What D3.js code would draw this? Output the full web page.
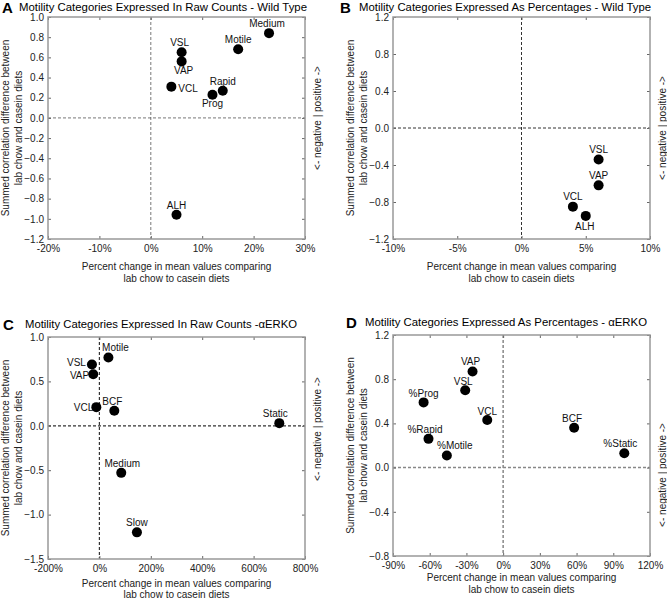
<!DOCTYPE html>
<html>
<head>
<meta charset="utf-8">
<script src="https://cdn.jsdelivr.net/npm/d3@7"></script>
<style>
  body { margin: 0; background: #fff; }
  svg { font-family: "Liberation Sans", Arial, Helvetica, sans-serif; }
  .tick text { font-size: 10px; fill: #222; }
</style>
</head>
<body>
<svg id="chart"></svg>
<script>
const width = 667;
const height = 602;

// ---- data ----
// A: raw counts, wild type
const aNames = ["Medium", "Motile", "VSL", "VAP", "VCL", "Rapid", "Prog", "ALH"];
const aPct = [23, 17, 6, 6, 4, 14, 12, 5];
const aCorr = [0.84, 0.68, 0.65, 0.56, 0.31, 0.27, 0.23, -0.96];
const aXTicks = [-20, -10, 0, 10, 20, 30];
const aYTicks = [-1.2, -1.0, -0.8, -0.6, -0.4, -0.2, 0, 0.2, 0.4, 0.6, 0.8, 1.0];

// B: percentages, wild type
const bNames = ["VSL", "VAP", "VCL", "ALH"];
const bPct = [6, 6, 4, 5];
const bCorr = [-0.34, -0.62, -0.85, -0.95];
const bXTicks = [-10, -5, 0, 5, 10];
const bYTicks = [-1.2, -0.8, -0.4, 0, 0.4, 0.8, 1.2];

// C: raw counts, aERKO
const cNames = ["Motile", "VSL", "VAP", "VCL", "BCF", "Static", "Medium", "Slow"];
const cPct = [35, -29, -24, -12, 58, 700, 85, 146];
const cCorr = [0.77, 0.69, 0.58, 0.21, 0.17, 0.03, -0.53, -1.2];
const cXTicks = [-200, 0, 200, 400, 600, 800];
const cYTicks = [-1.5, -1.0, -0.5, 0, 0.5, 1.0];

// D: percentages, aERKO
const dNames = ["VAP", "VSL", "%Prog", "VCL", "%Rapid", "%Motile", "BCF", "%Static"];
const dPct = [-25, -31, -65, -13, -61, -46, 58, 99];
const dCorr = [0.87, 0.70, 0.59, 0.43, 0.26, 0.11, 0.36, 0.13];
const dXTicks = [-90, -60, -30, 0, 30, 60, 90, 120];
const dYTicks = [-0.8, -0.4, 0, 0.4, 0.8, 1.2];

// label placement (dx, dy, anchor) per point name
const aLabelPos = {
  Medium: [-2, -6, "middle"], Motile: [0, -6, "middle"], VSL: [-2, -6, "middle"],
  VAP: [2, 12.5, "middle"], VCL: [7, 5.5, "start"], Rapid: [0, -6, "middle"],
  Prog: [0, 12.5, "middle"], ALH: [0, -6, "middle"]
};
const bLabelPos = {
  VSL: [0, -6, "middle"], VAP: [0, -6.5, "middle"], VCL: [0, -7, "middle"], ALH: [-1, 14, "middle"]
};
const cLabelPos = {
  Motile: [7, -6, "middle"], VSL: [-6, 1, "end"], VAP: [-4, 4.5, "end"], VCL: [-3, 4, "end"],
  BCF: [-2, -6, "middle"], Static: [-4, -6, "middle"], Medium: [1, -5.5, "middle"], Slow: [0, -6, "middle"]
};
const dLabelPos = {
  VAP: [-2, -6, "middle"], VSL: [-2, -5, "middle"], "%Prog": [0, -5.5, "middle"],
  VCL: [0, -5.5, "middle"], "%Rapid": [-3.5, -6, "middle"], "%Motile": [8, -6, "middle"],
  BCF: [-2, -6, "middle"], "%Static": [-4, -6, "middle"]
};

const panels = [
  {
    letter: "A", title: "Motility Categories Expressed In Raw Counts - Wild Type",
    letterX: 2, titleX: 19, titleY: 11, titleLen: 288,
    box: { left: 48, right: 305, top: 17, bottom: 239 },
    xDomain: [-20, 30], yDomain: [-1.2, 1.0], xTicks: aXTicks, yTicks: aYTicks,
    names: aNames, xs: aPct, ys: aCorr, labelPos: aLabelPos,
    xTitleDy: 31, xTitleGap: 12, sideX: 321, sideY: 118,
    dash: { stroke: "#555", width: 0.8, array: "3,2" }
  },
  {
    letter: "B", title: "Motility Categories Expressed As Percentages - Wild Type",
    letterX: 340, titleX: 359, titleY: 11, titleLen: 292,
    box: { left: 393, right: 650, top: 17, bottom: 239 },
    xDomain: [-10, 10], yDomain: [-1.2, 1.2], xTicks: bXTicks, yTicks: bYTicks,
    names: bNames, xs: bPct, ys: bCorr, labelPos: bLabelPos,
    xTitleDy: 31, xTitleGap: 12, sideX: 666, sideY: 128,
    dash: { stroke: "#333", width: 1, array: "3,2" }
  },
  {
    letter: "C", title: "Motility Categories Expressed In Raw Counts -\u03b1ERKO",
    letterX: 3, titleX: 25, titleY: 328, titleLen: 272,
    box: { left: 48, right: 305, top: 337, bottom: 559 },
    xDomain: [-200, 800], yDomain: [-1.5, 1.0], xTicks: cXTicks, yTicks: cYTicks,
    names: cNames, xs: cPct, ys: cCorr, labelPos: cLabelPos,
    xTitleDy: 28, xTitleGap: 11, sideX: 321, sideY: 429,
    dash: { stroke: "#333", width: 1.2, array: "3,2" }
  },
  {
    letter: "D", title: "Motility Categories Expressed As Percentages - \u03b1ERKO",
    letterX: 346, titleX: 365, titleY: 326, titleLen: 282,
    box: { left: 393, right: 650, top: 335, bottom: 556 },
    xDomain: [-90, 120], yDomain: [-0.8, 1.2], xTicks: dXTicks, yTicks: dYTicks,
    names: dNames, xs: dPct, ys: dCorr, labelPos: dLabelPos,
    xTitleDy: 25, xTitleGap: 12, sideX: 666, sideY: 475,
    dash: { stroke: "#888", width: 1.5, array: "3,2" }
  }
];

const svg = d3.select('#chart')
  .attr('width', width)
  .attr('height', height)
  .attr('viewBox', [0, 0, width, height]);

panels.forEach(p => drawPanel(p));

function drawPanel(p) {
  const b = p.box;
  const g = svg.append('g');

  const xScale = d3.scaleLinear().domain(p.xDomain).range([b.left, b.right]);
  const yScale = d3.scaleLinear().domain(p.yDomain).range([b.bottom, b.top]);

  // panel letter + title
  g.append('text')
    .attr('x', p.letterX).attr('y', p.titleY + 2)
    .style('font-size', '15px').style('font-weight', 'bold')
    .text(p.letter);
  g.append('text')
    .attr('x', p.titleX).attr('y', p.titleY)
    .attr('textLength', p.titleLen)
    .attr('lengthAdjust', 'spacingAndGlyphs')
    .style('font-size', '11.5px')
    .text(p.title);

  // zero lines (dashed)
  g.append('line')
    .attr('x1', xScale(0)).attr('x2', xScale(0))
    .attr('y1', b.top).attr('y2', b.bottom)
    .attr('stroke', p.dash.stroke).attr('stroke-width', p.dash.width)
    .attr('stroke-dasharray', p.dash.array);
  g.append('line')
    .attr('x1', b.left).attr('x2', b.right)
    .attr('y1', yScale(0)).attr('y2', yScale(0))
    .attr('stroke', p.dash.stroke).attr('stroke-width', p.dash.width)
    .attr('stroke-dasharray', p.dash.array);

  // axes with inward ticks
  const fmtX = d => d + '%';
  const fmtY = d3.format('.1f');

  const xAxisB = g.append('g')
    .attr('transform', `translate(0, ${b.bottom})`)
    .call(d3.axisBottom(xScale).tickValues(p.xTicks).tickFormat(fmtX).tickSize(-3).tickPadding(6));
  const xAxisT = g.append('g')
    .attr('transform', `translate(0, ${b.top})`)
    .call(d3.axisTop(xScale).tickValues(p.xTicks).tickFormat('').tickSize(-3));
  const yAxisL = g.append('g')
    .attr('transform', `translate(${b.left}, 0)`)
    .call(d3.axisLeft(yScale).tickValues(p.yTicks).tickFormat(fmtY).tickSize(-3).tickPadding(4));
  const yAxisR = g.append('g')
    .attr('transform', `translate(${b.right}, 0)`)
    .call(d3.axisRight(yScale).tickValues(p.yTicks).tickFormat('').tickSize(-3));

  [xAxisB, xAxisT, yAxisL, yAxisR].forEach(a => {
    a.select('.domain').remove();
    a.selectAll('.tick line').attr('stroke', '#666');
  });

  // frame
  g.append('rect')
    .attr('x', b.left).attr('y', b.top)
    .attr('width', b.right - b.left).attr('height', b.bottom - b.top)
    .attr('fill', 'none').attr('stroke', '#999').attr('stroke-width', 1.5);

  // points
  const pts = p.names.map((n, i) => ({ name: n, x: p.xs[i], y: p.ys[i] }));
  g.selectAll('.point')
    .data(pts)
    .enter()
    .append('circle')
    .attr('class', 'point')
    .attr('cx', d => xScale(d.x))
    .attr('cy', d => yScale(d.y))
    .attr('r', 5)
    .attr('fill', '#000');

  g.selectAll('.plabel')
    .data(pts)
    .enter()
    .append('text')
    .attr('class', 'plabel')
    .attr('x', d => xScale(d.x) + p.labelPos[d.name][0])
    .attr('y', d => yScale(d.y) + p.labelPos[d.name][1])
    .attr('text-anchor', d => p.labelPos[d.name][2])
    .style('font-size', '10px')
    .attr('fill', '#111')
    .text(d => d.name);

  // x-axis title
  const cx = (b.left + b.right) / 2;
  g.append('text')
    .attr('text-anchor', 'middle')
    .attr('x', cx).attr('y', b.bottom + p.xTitleDy)
    .style('font-size', '10px').attr('fill', '#222')
    .text('Percent change in mean values comparing');
  g.append('text')
    .attr('text-anchor', 'middle')
    .attr('x', cx).attr('y', b.bottom + p.xTitleDy + p.xTitleGap)
    .style('font-size', '10px').attr('fill', '#222')
    .text('lab chow to casein diets');

  // y-axis title (rotated, two lines)
  const cy = (b.top + b.bottom) / 2;
  g.append('text')
    .attr('text-anchor', 'middle')
    .attr('transform', `translate(${b.left - 39}, ${cy}) rotate(-90)`)
    .style('font-size', '10px').attr('fill', '#222')
    .text('Summed correlation difference between');
  g.append('text')
    .attr('text-anchor', 'middle')
    .attr('transform', `translate(${b.left - 26}, ${cy}) rotate(-90)`)
    .style('font-size', '10px').attr('fill', '#222')
    .text('lab chow and casein diets');

  // right side note
  g.append('text')
    .attr('text-anchor', 'middle')
    .attr('transform', `translate(${p.sideX}, ${p.sideY}) rotate(-90)`)
    .style('font-size', '10px').attr('fill', '#222')
    .text('<- negative  |  positive ->');
}
</script>
</body>
</html>
